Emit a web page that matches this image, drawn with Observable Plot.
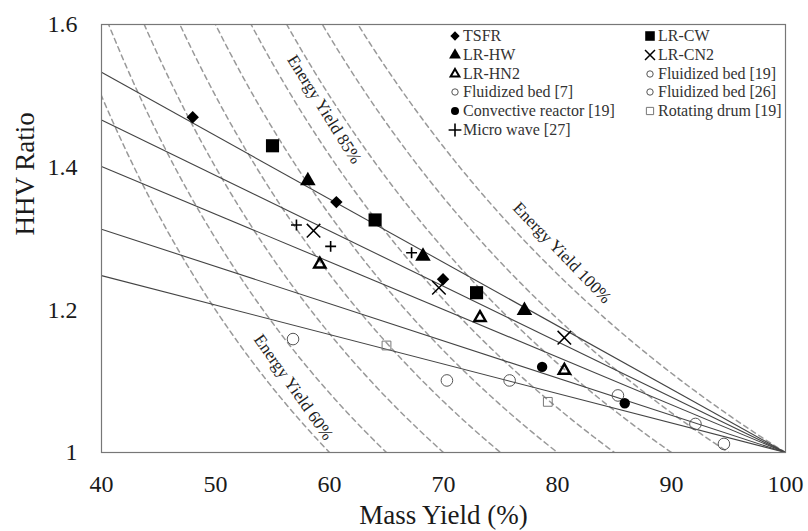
<!DOCTYPE html>
<html>
<head>
<meta charset="utf-8">
<script src="https://cdn.jsdelivr.net/npm/d3@7"></script>
<script src="https://cdn.jsdelivr.net/npm/@observablehq/plot@0.6"></script>
<style>
  html, body { margin: 0; padding: 0; background: #fff; }
  #wrap { position: relative; width: 808px; height: 531px; font-family: 'Liberation Serif', 'Times New Roman', serif; }
  #legend { position: absolute; left: 448px; top: 27px; font-family: 'Liberation Serif', serif; font-size: 16px; color: #333; display: grid; grid-template-columns: 195px 160px; row-gap: 0; }
  .item { display: flex; align-items: center; height: 18.7px; white-space: nowrap; font-family: 'Liberation Serif', serif; }
  .item span { font-family: 'Liberation Serif', serif; }
  .item svg { width: 14px; height: 14px; flex: none; margin-right: 1px; }
</style>
</head>
<body>
<div id="wrap"></div>
<script>
// ---- data ----
const xTicks = [40, 50, 60, 70, 80, 90, 100];
const yTicks = [1, 1.2, 1.4, 1.6];

const tsfrX = [48.0, 60.6, 69.96];            const tsfrY = [1.470, 1.351, 1.243];
const lrcwX = [55.0, 64.0, 72.9];             const lrcwY = [1.430, 1.326, 1.224];
const lrhwX = [58.1, 68.2, 77.1];             const lrhwY = [1.381, 1.275, 1.199];
const lrcn2X = [58.6, 69.6, 80.6];            const lrcn2Y = [1.311, 1.231, 1.161];
const lrhn2X = [59.15, 73.2, 80.6];           const lrhn2Y = [1.264, 1.189, 1.115];
const fb7X = [56.8, 70.3, 75.8];              const fb7Y = [1.159, 1.101, 1.101];
const fb19X = [85.3];                         const fb19Y = [1.080];
const fb26X = [92.1, 94.6];                   const fb26Y = [1.040, 1.012];
const convX = [78.65, 85.9];                  const convY = [1.120, 1.069];
const drumX = [65.0, 79.15];                  const drumY = [1.150, 1.071];
const microX = [57.1, 60.1, 67.2];            const microY = [1.319, 1.289, 1.280];

// trend lines: HHV ratio at mass yield 40 %, all converge at (100, 1)
const trendStartX = 40;
const trendStartY = [1.533, 1.466, 1.401, 1.313, 1.248];
const trendEndX = 100, trendEndY = 1;

// iso energy-yield curves (HHV ratio = E / mass yield)
const energyYields = [60, 65, 70, 75, 80, 85, 90, 95, 100];

const curveLabels = ["Energy Yield 85%", "Energy Yield 100%", "Energy Yield 60%"];
const curveLabelX = [59.55, 80.4, 56.85];
const curveLabelY = [1.481, 1.280, 1.0915];
const curveLabelRot = [58, 46, 55];

const FONT = "'Liberation Serif', 'Times New Roman', serif";

// ---- series styling ----
const series = [
  {name: "TSFR", x: tsfrX, y: tsfrY, symbol: "diamond2", r: 5.6, fill: "#000", stroke: "none", sw: 0, lr: 4.2},
  {name: "LR-CW", x: lrcwX, y: lrcwY, symbol: "square", r: 7.4, fill: "#000", stroke: "none", sw: 0, lr: 5.4},
  {name: "LR-HW", x: lrhwX, y: lrhwY, symbol: "triangle", r: 5.8, fill: "#000", stroke: "none", sw: 0, lr: 4.4},
  {name: "LR-CN2", x: lrcn2X, y: lrcn2Y, symbol: "times", r: 6.2, fill: "none", stroke: "#000", sw: 1.5, lr: 4.6},
  {name: "LR-HN2", x: lrhn2X, y: lrhn2Y, symbol: "triangle2", r: 5.4, fill: "none", stroke: "#000", sw: 2.4, lr: 4.2},
  {name: "Fluidized bed [19]", x: fb19X, y: fb19Y, symbol: "circle", r: 5.8, fill: "none", stroke: "#555", sw: 1, lr: 3.2},
  {name: "Fluidized bed [7]", x: fb7X, y: fb7Y, symbol: "circle", r: 5.8, fill: "none", stroke: "#555", sw: 1, lr: 3.2},
  {name: "Fluidized bed [26]", x: fb26X, y: fb26Y, symbol: "circle", r: 5.8, fill: "none", stroke: "#555", sw: 1, lr: 3.2},
  {name: "Convective reactor [19]", x: convX, y: convY, symbol: "circle", r: 5.2, fill: "#000", stroke: "none", sw: 0, lr: 4.0},
  {name: "Rotating drum [19]", x: drumX, y: drumY, symbol: "square2", r: 5.6, fill: "none", stroke: "#777", sw: 1, lr: 4.6},
  {name: "Micro wave [27]", x: microX, y: microY, symbol: "plus", r: 3.6, fill: "none", stroke: "#000", sw: 1.6, lr: 4.2}
];
const legendCol1 = ["TSFR", "LR-HW", "LR-HN2", "Fluidized bed [7]", "Convective reactor [19]", "Micro wave [27]"];
const legendCol2 = ["LR-CW", "LR-CN2", "Fluidized bed [19]", "Fluidized bed [26]", "Rotating drum [19]"];

// ---- derived tables ----
const curveXs = d3.range(36, 100.001, 0.25);
const curves = energyYields.flatMap(E => curveXs.map(x => ({E, x, y: E / x})));
const trends = trendStartY.map(y0 => ({x1: trendStartX, y1: y0, x2: trendEndX, y2: trendEndY}));
const labels = curveLabels.map((t, i) => ({t, x: curveLabelX[i], y: curveLabelY[i], r: curveLabelRot[i]}));

const dotMarks = series.map(s => Plot.dot(s.x.map((x, i) => ({x, y: s.y[i]})), {
  x: "x", y: "y", symbol: () => s.symbol, r: s.r, fill: s.fill, stroke: s.stroke, strokeWidth: s.sw
}));

const chart = Plot.plot({
  width: 808, height: 531,
  marginLeft: 101, marginRight: 23, marginTop: 24, marginBottom: 79,
  style: {fontFamily: FONT, fontSize: "24px", color: "#1a1a1a", background: "#fff"},
  x: {domain: [40, 100]},
  y: {domain: [1, 1.6]},
  symbol: {type: "identity"},
  marks: [
    Plot.line(curves, {x: "x", y: "y", z: "E", stroke: "#999", strokeWidth: 1.5, strokeDasharray: "5,4", clip: true}),
    Plot.link(trends, {x1: "x1", y1: "y1", x2: "x2", y2: "y2", stroke: "#444", strokeWidth: 1.1}),
    Plot.frame({stroke: "#777", strokeWidth: 1.2}),
    Plot.text(labels, {x: "x", y: "y", text: "t", rotate: "r", fontSize: 17, fontFamily: FONT, fill: "#222"}),
    ...dotMarks,
    Plot.axisX({ticks: xTicks, tickSize: 0, tickPadding: 22, fontSize: 24, fontFamily: FONT, label: null, tickFormat: d => String(d)}),
    Plot.axisY({ticks: yTicks, tickSize: 0, tickPadding: 24, fontSize: 24, fontFamily: FONT, label: null, tickFormat: d => String(d)}),
    Plot.text(["Mass Yield (%)"], {text: d => d, frameAnchor: "bottom", dy: 71, fontSize: 27, fontFamily: FONT, fill: "#1a1a1a"}),
    Plot.text(["HHV Ratio"], {text: d => d, frameAnchor: "left", dx: -76, dy: -3, rotate: -90, fontSize: 27, fontFamily: FONT, fill: "#1a1a1a"})
  ]
});

const wrap = document.getElementById("wrap");
wrap.appendChild(chart);

// ---- legend (HTML overlay inside the plot frame) ----
const symbolTypes = {
  diamond2: d3.symbolDiamond2, square: d3.symbolSquare, triangle: d3.symbolTriangle,
  times: d3.symbolTimes, triangle2: d3.symbolTriangle2, circle: d3.symbolCircle,
  square2: d3.symbolSquare2, plus: d3.symbolPlus
};
const legend = document.createElement("div");
legend.id = "legend";
function item(name) {
  const s = series.find(d => d.name === name);
  const div = document.createElement("div");
  div.className = "item";
  const path = d3.symbol().type(symbolTypes[s.symbol]).size(Math.PI * s.lr * s.lr)();
  const sw = s.symbol === "triangle2" ? 2 : (s.symbol === "circle" && s.fill === "none" ? 1 : s.sw);
  div.innerHTML = `<svg viewBox="-7 -7 14 14"><path d="${path}" fill="${s.fill}" stroke="${s.stroke}" stroke-width="${sw}"/></svg><span>${name}</span>`;
  return div;
}
for (let i = 0; i < legendCol1.length; i++) {
  legend.appendChild(item(legendCol1[i]));
  if (i < legendCol2.length) legend.appendChild(item(legendCol2[i]));
  else legend.appendChild(document.createElement("div"));
}
wrap.appendChild(legend);
</script>
</body>
</html>
